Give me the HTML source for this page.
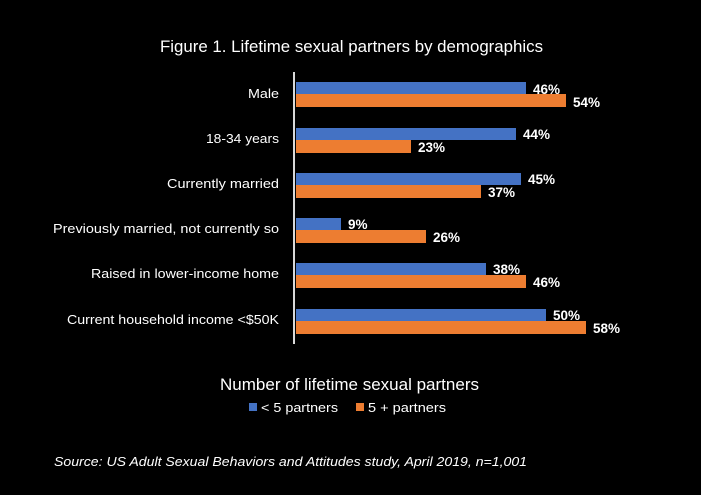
<!DOCTYPE html>
<html><head><style>
body{margin:0;background:#000;}
svg{display:block;}
text{font-family:"Liberation Sans",sans-serif;fill:#fff;}
</style></head><body>
<svg width="701" height="495" viewBox="0 0 701 495">
<rect width="701" height="495" fill="#000"/>
<text x="160" y="52" font-size="16.5" textLength="383" lengthAdjust="spacingAndGlyphs">Figure 1. Lifetime sexual partners by demographics</text>
<line x1="294" y1="72" x2="294" y2="344" stroke="#d9d9d9" stroke-width="2"/>
<g font-size="13">
<text x="248" y="98" textLength="31" lengthAdjust="spacingAndGlyphs">Male</text>
<text x="206" y="143" textLength="73" lengthAdjust="spacingAndGlyphs">18-34 years</text>
<text x="167" y="188" textLength="112" lengthAdjust="spacingAndGlyphs">Currently married</text>
<text x="53" y="233" textLength="226" lengthAdjust="spacingAndGlyphs">Previously married, not currently so</text>
<text x="91" y="278" textLength="188" lengthAdjust="spacingAndGlyphs">Raised in lower-income home</text>
<text x="67" y="324" textLength="212" lengthAdjust="spacingAndGlyphs">Current household income &lt;$50K</text>
</g>
<g>
<rect x="296" y="82" width="230" height="12" fill="#4472C4"/><rect x="296" y="94" width="270" height="13" fill="#ED7D31"/>
<rect x="296" y="128" width="220" height="12" fill="#4472C4"/><rect x="296" y="140" width="115" height="13" fill="#ED7D31"/>
<rect x="296" y="173" width="225" height="12" fill="#4472C4"/><rect x="296" y="185" width="185" height="13" fill="#ED7D31"/>
<rect x="296" y="218" width="45" height="12" fill="#4472C4"/><rect x="296" y="230" width="130" height="13" fill="#ED7D31"/>
<rect x="296" y="263" width="190" height="12" fill="#4472C4"/><rect x="296" y="275" width="230" height="13" fill="#ED7D31"/>
<rect x="296" y="309" width="250" height="12" fill="#4472C4"/><rect x="296" y="321" width="290" height="13" fill="#ED7D31"/>
</g>
<g font-size="13.5" font-weight="bold">
<text x="533" y="94">46%</text><text x="573" y="107">54%</text>
<text x="523" y="139">44%</text><text x="418" y="152">23%</text>
<text x="528" y="184">45%</text><text x="488" y="197">37%</text>
<text x="348" y="229">9%</text><text x="433" y="242">26%</text>
<text x="493" y="274">38%</text><text x="533" y="287">46%</text>
<text x="553" y="320">50%</text><text x="593" y="333">58%</text>
</g>
<text x="220" y="390" font-size="16.5" textLength="259" lengthAdjust="spacingAndGlyphs">Number of lifetime sexual partners</text>
<rect x="249" y="403" width="8" height="8" fill="#4472C4"/>
<text x="261" y="412" font-size="12.5" textLength="77" lengthAdjust="spacingAndGlyphs">&lt; 5 partners</text>
<rect x="356" y="403" width="8" height="8" fill="#ED7D31"/>
<text x="368" y="412" font-size="12.5" textLength="78" lengthAdjust="spacingAndGlyphs">5 + partners</text>
<text x="54" y="466" font-size="13" font-style="italic" textLength="473" lengthAdjust="spacingAndGlyphs">Source: US Adult Sexual Behaviors and Attitudes study, April 2019, n=1,001</text>
</svg>
</body></html>
